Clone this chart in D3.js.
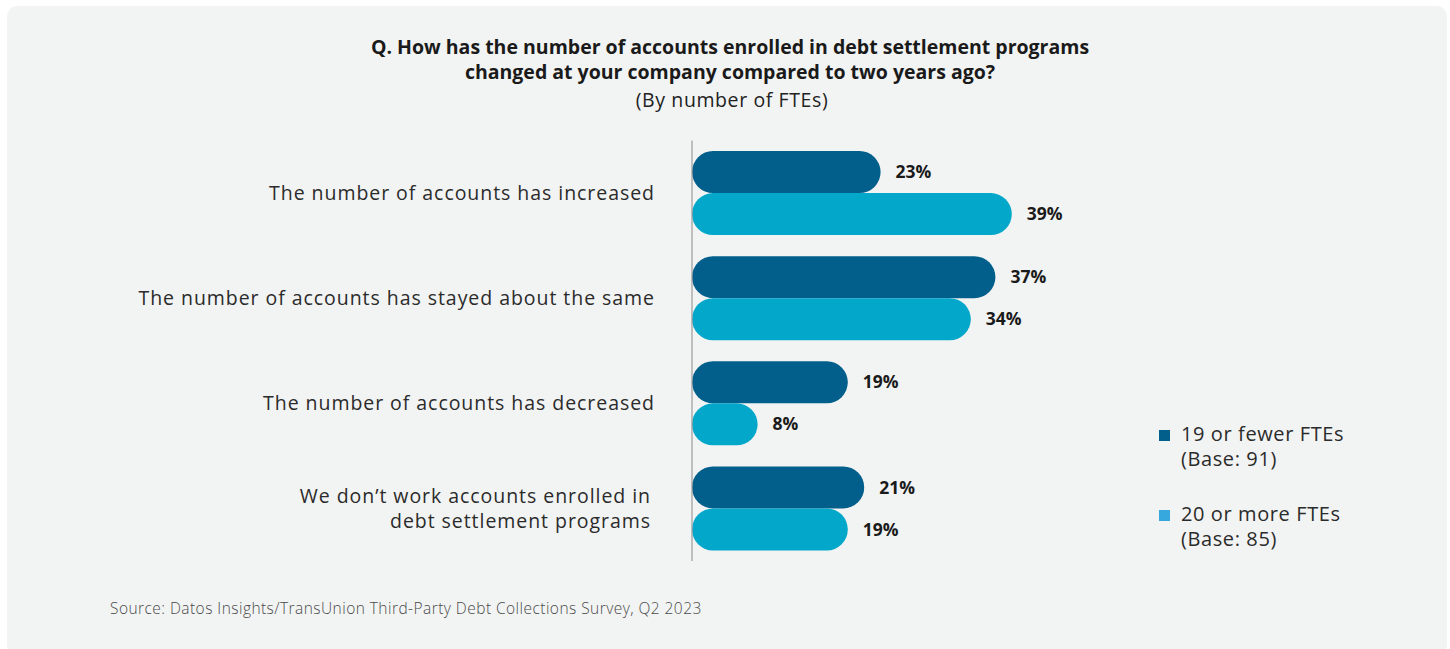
<!DOCTYPE html>
<html>
<head>
<meta charset="utf-8">
<script src="https://cdn.jsdelivr.net/npm/d3@7"></script>
<style>
  html, body { margin: 0; padding: 0; background: #ffffff; }
  svg { display: block; }
</style>
</head>
<body>
<svg id="chart" width="1450" height="649"></svg>
<script>
// Survey answers (rows) and respondent groups (series)
const categories = [
  ["The number of accounts has increased"],
  ["The number of accounts has stayed about the same"],
  ["The number of accounts has decreased"],
  ["We don\u2019t work accounts enrolled in", "debt settlement programs"]
];
const categoryKeys = ["increased", "same", "decreased", "none"];
const seriesNames = ["19 or fewer FTEs", "20 or more FTEs"];
const seriesBases = ["(Base: 91)", "(Base: 85)"];
const smallFirms = [23, 37, 19, 21];
const largeFirms = [39, 34, 8, 19];

const titleLines = [
  "Q. How has the number of accounts enrolled in debt settlement programs",
  "changed at your company compared to two years ago?"
];
const subtitle = "(By number of FTEs)";
const sourceNote = "Source: Datos Insights/TransUnion Third-Party Debt Collections Survey, Q2 2023";

const barColors = ["#025f8c", "#02a7ca"];
const legendColors = ["#025f8c", "#37a8de"];

const svg = d3.select("#chart");

// Card background
svg.append("rect")
  .attr("x", 7).attr("y", 6)
  .attr("width", 1440).attr("height", 650)
  .attr("rx", 10).attr("ry", 10)
  .attr("fill", "#f2f4f3");

// Title block
const mainFont = "'Open Sans', 'Noto Sans', sans-serif";
svg.selectAll("text.title")
  .data(titleLines)
  .join("text")
  .attr("class", "title")
  .attr("x", 730)
  .attr("y", (d, i) => 54 + i * 25)
  .attr("text-anchor", "middle")
  .attr("font-family", mainFont)
  .attr("font-weight", 700)
  .attr("font-size", 19.5)
  .attr("fill", "#1a1a1a")
  .text(d => d);

svg.append("text")
  .attr("x", 732).attr("y", 107)
  .attr("text-anchor", "middle")
  .attr("font-family", mainFont)
  .attr("font-size", 19.5)
  .attr("letter-spacing", 0.6)
  .attr("fill", "#222")
  .text(subtitle);

// Scales
const x = d3.scaleLinear().domain([0, 100]).range([692, 1512]);
const y = d3.scaleBand().domain(categoryKeys).range([140.5, 561])
  .paddingInner(0.2).paddingOuter(0.1);
const ySeries = d3.scaleBand().domain([0, 1]).range([0, y.bandwidth()]);

const rows = categoryKeys.map((k, i) => ({
  key: k,
  label: categories[i],
  values: [smallFirms[i], largeFirms[i]]
}));

// Bars
const groups = svg.append("g").selectAll("g")
  .data(rows)
  .join("g")
  .attr("transform", d => `translate(0,${y(d.key)})`);

groups.selectAll("rect")
  .data(d => d.values.map((v, s) => ({ v, s })))
  .join("rect")
  .attr("x", x(0))
  .attr("y", d => ySeries(d.s))
  .attr("width", d => x(d.v) - x(0))
  .attr("height", ySeries.bandwidth())
  .attr("rx", ySeries.bandwidth() / 2)
  .attr("ry", ySeries.bandwidth() / 2)
  .attr("fill", d => barColors[d.s]);

// Value labels
groups.selectAll("text.val")
  .data(d => d.values.map((v, s) => ({ v, s })))
  .join("text")
  .attr("class", "val")
  .attr("x", d => x(d.v) + 15)
  .attr("y", d => ySeries(d.s) + ySeries.bandwidth() / 2)
  .attr("dy", "0.35em")
  .attr("font-family", mainFont)
  .attr("font-weight", 700)
  .attr("font-size", 17.5)
  .attr("fill", "#1a1a1a")
  .text(d => d.v + "%");

// Vertical baseline
svg.append("line")
  .attr("x1", x(0)).attr("x2", x(0))
  .attr("y1", 140.5).attr("y2", 561)
  .attr("stroke", "#9a9a9a")
  .attr("stroke-width", 1.2);

// Category labels
groups.each(function(d) {
  const g = d3.select(this);
  const n = d.label.length;
  const cy = y.bandwidth() / 2;
  const lineH = 25;
  const xr = n > 1 ? 651 : 655;
  g.selectAll("text.cat")
    .data(d.label)
    .join("text")
    .attr("class", "cat")
    .attr("x", xr)
    .attr("y", (t, i) => cy + (i - (n - 1) / 2) * lineH)
    .attr("dy", "0.35em")
    .attr("text-anchor", "end")
    .attr("font-family", mainFont)
    .attr("font-size", 19.5)
    .attr("letter-spacing", 0.95)
    .attr("fill", "#2b2b2b")
    .text(t => t);
});

// Legend
const legend = svg.append("g").selectAll("g")
  .data(seriesNames)
  .join("g")
  .attr("transform", (d, i) => `translate(1159,${430 + i * 80})`);

legend.append("rect")
  .attr("width", 11).attr("height", 11)
  .attr("fill", (d, i) => legendColors[i]);

legend.append("text")
  .attr("x", 22).attr("y", 11)
  .attr("font-family", mainFont)
  .attr("font-size", 20)
  .attr("letter-spacing", 0.6)
  .attr("fill", "#2b2b2b")
  .text(d => d);

legend.append("text")
  .attr("x", 22).attr("y", 36)
  .attr("font-family", mainFont)
  .attr("font-size", 20)
  .attr("letter-spacing", 0.6)
  .attr("fill", "#2b2b2b")
  .text((d, i) => seriesBases[i]);

// Source note
svg.append("text")
  .attr("x", 110).attr("y", 614)
  .attr("font-family", mainFont)
  .attr("font-weight", 300)
  .attr("font-size", 15.5)
  .attr("letter-spacing", 0.45)
  .attr("fill", "#4a4a4a")
  .text(sourceNote);
</script>
</body>
</html>
